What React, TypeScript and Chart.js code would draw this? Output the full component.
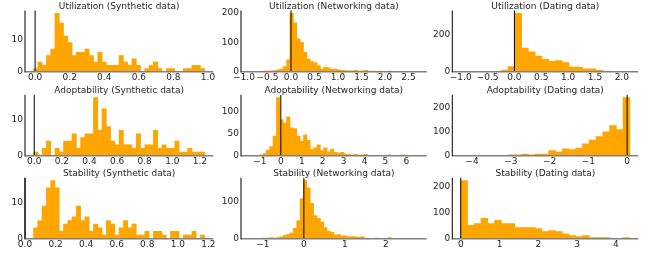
import React, { useEffect, useRef } from 'react';
import { Chart, registerables } from 'chart.js';

Chart.register(...registerables);

// ---------- Data (histogram counts per bin, bin range [first edge, last edge]) ----------
const utilSynthCounts = [1, 3, 2, 5, 7, 18, 15, 11, 9, 5, 6, 6, 7, 5, 3, 6, 3, 2, 2, 2, 5, 3, 2, 4, 2, 0, 1, 2, 3, 1, 0, 1, 1, 0, 0, 1, 1, 2, 2, 1];
const utilSynthRange = [-0.009, 0.981];

const utilNetCounts = [1, 0, 1, 1, 2, 2, 3, 4, 6, 9, 17, 40, 198, 166, 112, 100, 66, 43, 34, 31, 21, 9, 16, 13, 8, 9, 6, 5, 4, 3, 3, 5, 2, 3, 5, 2, 2, 1, 2, 1, 1, 2, 1, 1, 1, 0, 1, 1, 0, 1];
const utilNetRange = [-0.884, 2.707];

const utilDateCounts = [1, 2, 1, 1, 1, 2, 9, 27, 315, 128, 107, 85, 67, 56, 60, 49, 25, 25, 16, 16, 7, 3, 2, 2, 1];
const utilDateRange = [-1.0, 2.15];

const adoptSynthCounts = [1, 0, 2, 4, 0, 2, 1, 4, 4, 6, 2, 5, 6, 6, 16, 7, 13, 8, 4, 3, 7, 3, 3, 2, 6, 2, 3, 3, 7, 2, 3, 2, 2, 4, 1, 1, 2, 1, 1, 1];
const adoptSynthRange = [-0.005, 1.235];

const adoptNetCounts = [1, 1, 1, 2, 5, 13, 21, 45, 133, 82, 75, 89, 64, 62, 45, 33, 48, 35, 14, 18, 25, 12, 18, 9, 15, 8, 6, 8, 4, 3, 2, 3, 1, 2, 3, 1, 1, 0, 1, 1, 1, 2, 1, 0, 1, 2, 1, 1, 0, 1];
const adoptNetRange = [-1.5, 6.57];

const adoptDateCounts = [1, 2, 1, 1, 1, 1, 1, 4, 4, 7, 4, 7, 7, 21, 15, 28, 25, 32, 49, 65, 79, 99, 125, 108, 240];
const adoptDateRange = [-4.29, 0.07];

const stabSynthCounts = [3, 5, 9, 14, 16, 14, 2, 4, 5, 6, 9, 5, 6, 2, 4, 3, 1, 5, 4, 1, 3, 5, 3, 4, 1, 1, 2, 0, 2, 2, 1, 0, 2, 2, 0, 1, 1, 2, 0, 1];
const stabSynthRange = [0.056, 1.176];

const stabNetCounts = [1, 0, 1, 1, 2, 2, 3, 2, 3, 5, 9, 12, 15, 28, 49, 108, 156, 137, 95, 62, 55, 45, 30, 20, 17, 10, 11, 8, 8, 6, 6, 5, 4, 5, 2, 1, 1, 2, 1, 1, 1, 3, 1, 1, 0, 1, 1, 0, 1, 1];
const stabNetRange = [-1.328, 2.79];

const stabDateCounts = [222, 51, 58, 78, 58, 70, 58, 58, 43, 43, 43, 39, 27, 31, 27, 19, 12, 8, 12, 4, 4, 4, 1, 1, 4];
const stabDateRange = [0.0, 4.36];

const rowNames = ['Utilization', 'Adoptability', 'Stability'];
const colNames = ['Synthetic data', 'Networking data', 'Dating data'];

// tick steps and decimals per panel (x step, x decimals, y step)
const xSteps = [[0.2, 0.5, 0.5], [0.2, 1, 1], [0.2, 1, 1]];
const xDecimals = [[1, 1, 1], [1, 0, 0], [1, 0, 0]];
const ySteps = [[10, 100, 200], [10, 50, 100], [10, 100, 100]];

const countsGrid = [
  [utilSynthCounts, utilNetCounts, utilDateCounts],
  [adoptSynthCounts, adoptNetCounts, adoptDateCounts],
  [stabSynthCounts, stabNetCounts, stabDateCounts],
];
const rangeGrid = [
  [utilSynthRange, utilNetRange, utilDateRange],
  [adoptSynthRange, adoptNetRange, adoptDateRange],
  [stabSynthRange, stabNetRange, stabDateRange],
];

// ---------- Layout ----------
const COL_LEFT = [25, 241, 452.3];
const COL_W = [188.3, 185.7, 186];
const ROW_TOP = [10.5, 94.8, 177.8];
const ROW_H = [61.2, 60.9, 60.9];

const FONT = 'DejaVu Sans';
const TEXT_COLOR = '#262626';
const FONT_SIZE = 9;

function fmt(v: number, d: number) {
  const s = (Math.abs(v) < 1e-9 ? 0 : v).toFixed(d);
  return s.replace('-', '\u2212');
}

function stepTicks(min: number, max: number, step: number) {
  const out: { value: number }[] = [];
  const start = Math.ceil(min / step - 1e-9);
  const end = Math.floor(max / step + 1e-9);
  for (let k = start; k <= end; k++) out.push({ value: Math.round(k * step * 1e6) / 1e6 });
  return out;
}

function Panel({ r, c }: { r: number; c: number }) {
  const ref = useRef<HTMLCanvasElement>(null);
  const L = COL_LEFT[c];
  const W = COL_W[c];
  const T = ROW_TOP[r];
  const H = ROW_H[r];
  const padL = Math.min(36, Math.floor(L));
  const cl = Math.floor(L) - padL;
  const ct = Math.floor(T) - 12;
  const cw = Math.ceil(L + W) + 10 - cl;
  const chh = Math.ceil(T + H) + 14 - ct;

  useEffect(() => {
    const counts = countsGrid[r][c];
    const [lo, hi] = rangeGrid[r][c];
    const n = counts.length;
    const bw = (hi - lo) / n;
    const span = hi - lo;
    const xMin = lo - 0.05 * span;
    const xMax = hi + 0.05 * span;
    const yMax = Math.max(...counts) * 1.05;
    const title = `${rowNames[r]} (${colNames[c]})`;
    const yLeftWidth = L - cl;
    const xAxisH = chh - (T + H - ct);

    const overlay = {
      id: 'overlay' + r + c,
      afterDatasetsDraw(chart: any) {
        const { ctx, chartArea: ca, scales } = chart;
        const x0 = scales.x.getPixelForValue(0);
        ctx.save();
        ctx.lineCap = 'butt';
        ctx.strokeStyle = '#000000';
        ctx.lineWidth = 1;
        ctx.beginPath();
        ctx.moveTo(x0, ca.top);
        ctx.lineTo(x0, ca.bottom);
        ctx.stroke();
        ctx.strokeStyle = '#808080';
        ctx.lineWidth = 1.5;
        ctx.beginPath();
        ctx.moveTo(ca.left, ca.bottom);
        ctx.lineTo(ca.right, ca.bottom);
        ctx.stroke();
        ctx.strokeStyle = '#000000';
        ctx.lineWidth = 1;
        ctx.beginPath();
        ctx.moveTo(ca.left, ca.top);
        ctx.lineTo(ca.left, ca.bottom + 0.75);
        ctx.stroke();
        ctx.restore();
      },
      afterDraw(chart: any) {
        const { ctx, chartArea: ca } = chart;
        ctx.save();
        ctx.font = `${FONT_SIZE}px "${FONT}"`;
        ctx.fillStyle = TEXT_COLOR;
        ctx.textAlign = 'center';
        ctx.textBaseline = 'alphabetic';
        ctx.fillText(title, (ca.left + ca.right) / 2, ca.top - 1.5);
        ctx.restore();
      },
    };

    const chart = new Chart(ref.current as HTMLCanvasElement, {
      type: 'bar',
      data: {
        datasets: [
          {
            data: counts.map((v, i) => ({ x: lo + (i + 0.5) * bw, y: v })),
            backgroundColor: '#FFA500',
            borderWidth: 0,
            barThickness: 'flex',
            barPercentage: 1,
            categoryPercentage: 1,
          },
        ],
      },
      options: {
        animation: false,
        responsive: false,
        devicePixelRatio: 1,
        layout: {
          padding: { left: 0, top: T - ct, right: cw - (L + W - cl), bottom: 0 },
        },
        plugins: {
          legend: { display: false },
          tooltip: { enabled: false },
          title: { display: false },
        },
        scales: {
          x: {
            type: 'linear',
            offset: false,
            min: xMin,
            max: xMax,
            grid: { display: false, drawTicks: false, offset: false },
            border: { display: false },
            ticks: {
              autoSkip: false,
              maxRotation: 0,
              minRotation: 0,
              padding: 1,
              color: TEXT_COLOR,
              font: { family: FONT, size: FONT_SIZE },
              callback: (v: any) => fmt(Number(v), xDecimals[r][c]),
            },
            afterBuildTicks: (s: any) => {
              s.ticks = stepTicks(xMin, xMax, xSteps[r][c]);
            },
            afterFit: (s: any) => {
              s.height = xAxisH;
              s.paddingLeft = 0;
              s.paddingRight = 0;
              s.paddingTop = 0;
              s.paddingBottom = 0;
            },
          },
          y: {
            type: 'linear',
            min: 0,
            max: yMax,
            grid: { display: false, drawTicks: false },
            border: { display: false },
            ticks: {
              padding: 2,
              color: TEXT_COLOR,
              font: { family: FONT, size: FONT_SIZE },
              callback: (v: any) => fmt(Number(v), 0),
            },
            afterBuildTicks: (s: any) => {
              s.ticks = stepTicks(0, yMax, ySteps[r][c]);
            },
            afterFit: (s: any) => {
              s.width = yLeftWidth;
              s.paddingTop = 0;
              s.paddingBottom = 0;
              s.paddingLeft = 0;
              s.paddingRight = 0;
            },
          },
        },
      } as any,
      plugins: [overlay],
    });
    return () => chart.destroy();
  }, []);

  return (
    <canvas
      ref={ref}
      width={cw}
      height={chh}
      style={{ position: 'absolute', left: cl, top: ct, width: cw, height: chh }}
    />
  );
}

export default function App() {
  const cells: any[] = [];
  for (let r = 0; r < 3; r++) {
    for (let c = 0; c < 3; c++) {
      cells.push(<Panel key={`${r}-${c}`} r={r} c={c} />);
    }
  }
  return (
    <div
      style={{
        position: 'absolute',
        left: 0,
        top: 0,
        width: 662,
        height: 258,
        background: '#ffffff',
        overflow: 'hidden',
      }}
    >
      {cells}
    </div>
  );
}
